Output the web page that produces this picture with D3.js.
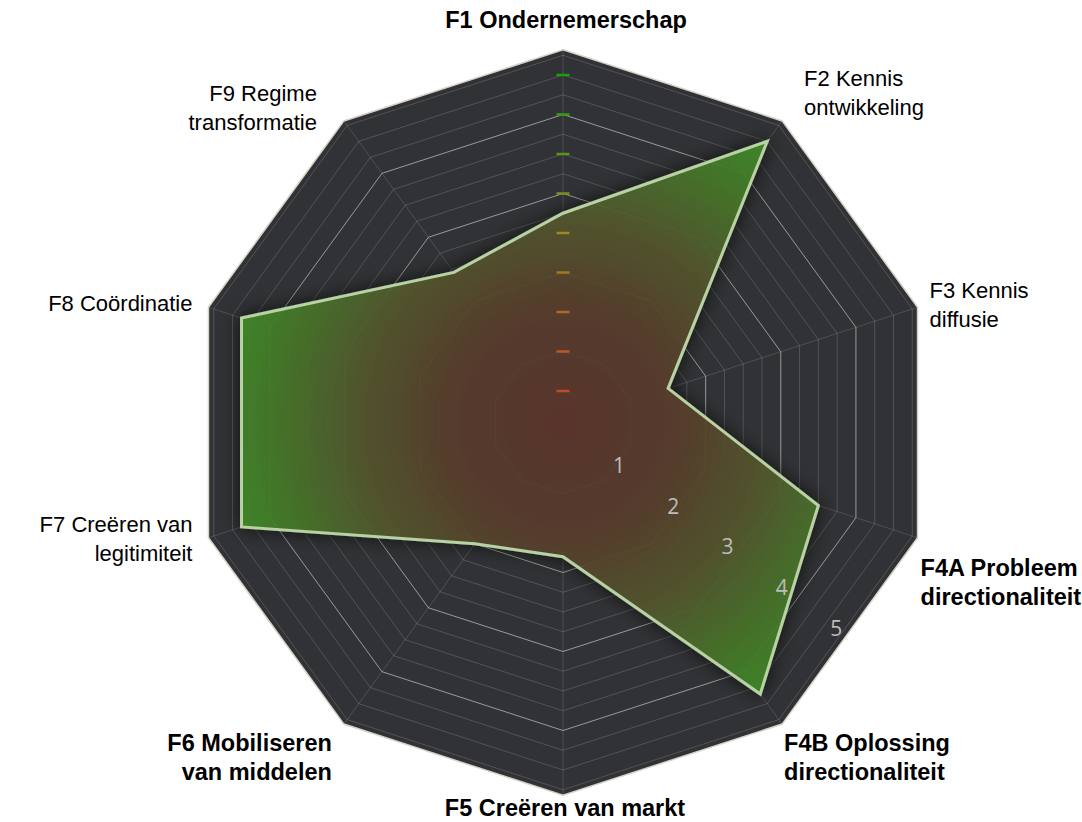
<!DOCTYPE html>
<html>
<head>
<meta charset="utf-8">
<script src="https://cdn.jsdelivr.net/npm/d3@7"></script>
<style>
  body { margin: 0; background: #fff; }
  svg { display: block; }
</style>
</head>
<body>
<div id="chart"></div>
<script>
// --------------------------------------------------
// data

const categories = [
  ['F1 Ondernemerschap'],
  ['F2 Kennis', 'ontwikkeling'],
  ['F3 Kennis', 'diffusie'],
  ['F4A Probleem', 'directionaliteit'],
  ['F4B Oplossing', 'directionaliteit'],
  ['F5 Creëren van markt'],
  ['F6 Mobiliseren', 'van middelen'],
  ['F7 Creëren van', 'legitimiteit'],
  ['F8 Coördinatie'],
  ['F9 Regime', 'transformatie']
];
const boldCategories = ['F1', 'F4A', 'F4B', 'F5', 'F6'];
const scores = [2.75, 4.5, 1.5, 3.5, 4.35, 1.8, 2.0, 4.38, 4.38, 2.45];
const ringLabels = ['1', '2', '3', '4', '5'];
const majorRings = [1, 2, 3, 4];
const axisMax = 4.82;   // value where the dark plot area stops
const minorStep = 0.25;
const tickStep = 0.5;

// --------------------------------------------------
// layout

const width = 1082, height = 822;
const cx = 563, cy = 422.5;
const lineH = 29;

// hand nudges for the category labels (dx, dy), the spreadsheet placed them unevenly
const labelNudge = [[3, -9], [10, 0], [0, 8], [-9, 34], [-10, 5], [2, -8], [0, 5], [-4, -10], [-4, 3], [-15, 15]];

let svg = d3.select('#chart')
  .append('svg')
  .attr('width', width)
  .attr('height', height);

let defs = svg.append('defs');

let r = d3.scaleLinear()
  .domain([0, 5])
  .range([-8, 387]);

let angle = d3.scaleLinear()
  .domain([0, categories.length])
  .range([0, 2 * Math.PI]);

let ring = function (v)
{
  return d3.lineRadial()
    .angle((d, i) => angle(i))
    .radius(() => r(v))
    .curve(d3.curveLinearClosed)(categories);
};

let fillGrad = defs.append('radialGradient')
  .attr('id', 'fillGrad')
  .attr('gradientUnits', 'userSpaceOnUse')
  .attr('cx', 0).attr('cy', 0)
  .attr('r', r(axisMax));
[[0, '#5e362f'], [0.3, '#5b3f2e'], [0.55, '#555a2e'], [0.8, '#46802a'], [1, '#3f9a24']]
.forEach(function (s)
{
  fillGrad.append('stop').attr('offset', s[0]).attr('stop-color', s[1]);
});

let shadow = defs.append('filter')
  .attr('id', 'shadow')
  .attr('x', '-20%').attr('y', '-20%')
  .attr('width', '140%').attr('height', '140%');
shadow.append('feDropShadow')
  .attr('dx', 0).attr('dy', 0)
  .attr('stdDeviation', 9)
  .attr('flood-color', '#000')
  .attr('flood-opacity', 0.75);

let plot = svg.append('g')
  .attr('transform', `translate(${cx},${cy})`);

// dark plot area
plot.append('path')
  .attr('d', ring(axisMax))
  .attr('fill', '#313235')
  .attr('stroke', '#d6d3c6')
  .attr('stroke-width', 1.5);

// minor rings
plot.selectAll('.minor')
  .data(d3.range(minorStep, axisMax, minorStep).filter(v => v % 1 !== 0))
  .enter()
  .append('path')
  .attr('d', v => ring(v))
  .attr('fill', 'none')
  .attr('stroke', '#ffffff')
  .attr('stroke-opacity', 0.16)
  .attr('stroke-width', 1);

// major rings
plot.selectAll('.major')
  .data(majorRings)
  .enter()
  .append('path')
  .attr('d', v => ring(v))
  .attr('fill', 'none')
  .attr('stroke', '#ffffff')
  .attr('stroke-opacity', 0.5)
  .attr('stroke-width', 1);

// spokes
plot.selectAll('.spoke')
  .data(categories)
  .enter()
  .append('line')
  .attr('x2', (d, i) => r(axisMax) * Math.sin(angle(i)))
  .attr('y2', (d, i) => -r(axisMax) * Math.cos(angle(i)))
  .attr('stroke', '#ffffff')
  .attr('stroke-opacity', 0.14);

// series
plot.append('path')
  .datum(scores)
  .attr('d', d3.lineRadial()
    .angle((d, i) => angle(i))
    .radius(d => r(d))
    .curve(d3.curveLinearClosed))
  .attr('fill', 'url(#fillGrad)')
  .attr('fill-opacity', 0.86)
  .attr('stroke', '#b8d2a4')
  .attr('stroke-width', 3)
  .attr('stroke-linejoin', 'miter')
  .attr('filter', 'url(#shadow)');

// coloured tick marks on the first axis
let tickColor = d3.scaleLinear()
  .domain([0.5, 2.5, 4.5])
  .range(['#c24a2a', '#9a8a1e', '#14a014']);

plot.selectAll('.tick')
  .data(d3.range(tickStep, 4.51, tickStep))
  .enter()
  .append('line')
  .attr('x1', -6.5).attr('x2', 6.5)
  .attr('y1', v => -r(v)).attr('y2', v => -r(v))
  .attr('stroke', v => tickColor(v))
  .attr('stroke-width', 2.5);

// value labels along the diagonal
let labelAngle = 127 * Math.PI / 180;
let labelR = d3.scaleLinear()
  .domain([1, 5])
  .range([70, 342]);

plot.selectAll('.val')
  .data(ringLabels)
  .enter()
  .append('text')
  .attr('x', (d, i) => labelR(i + 1) * Math.sin(labelAngle))
  .attr('y', (d, i) => -labelR(i + 1) * Math.cos(labelAngle))
  .attr('text-anchor', 'middle')
  .attr('dominant-baseline', 'central')
  .attr('font-family', '"Open Sans", sans-serif')
  .attr('font-size', 21)
  .attr('fill', '#bcbcbc')
  .text(d => d);

// category labels
let outer = r(axisMax);

categories.forEach(function (lines, i)
{
  let a = angle(i);
  let s = Math.sin(a), c = Math.cos(a);
  let h = lines.length * lineH;
  let anchor = Math.abs(s) < 0.1 ? 'middle' : (s > 0 ? 'start' : 'end');
  let x = outer * s + (anchor === 'middle' ? 0 : Math.sign(s) * 12) + labelNudge[i][0];
  let yc = -outer * c - c * (h / 2 + 6) + labelNudge[i][1];
  let bold = boldCategories.indexOf(lines[0].split(' ')[0]) >= 0;

  let t = plot.append('text')
    .attr('text-anchor', anchor)
    .attr('font-family', '"Liberation Sans", Arial, sans-serif')
    .attr('font-size', bold ? 23.5 : 22)
    .attr('font-weight', bold ? 'bold' : 'normal')
    .attr('fill', '#000');

  lines.forEach(function (line, k)
  {
    t.append('tspan')
      .attr('x', x)
      .attr('y', yc - h / 2 + lineH / 2 + k * lineH)
      .attr('dominant-baseline', 'central')
      .text(line);
  });
});
</script>
</body>
</html>
